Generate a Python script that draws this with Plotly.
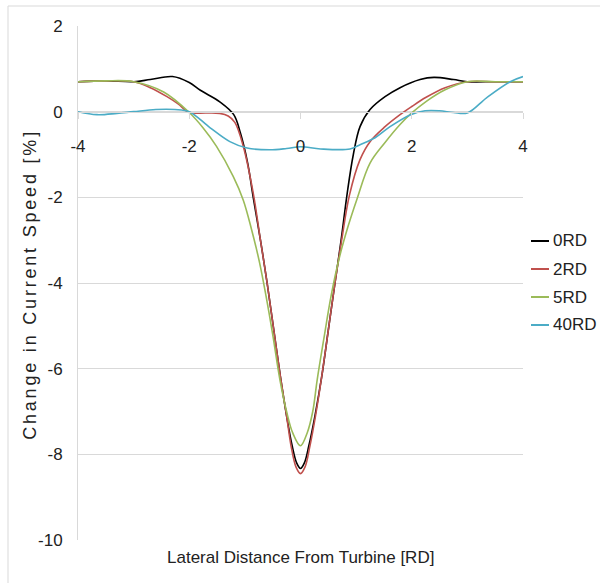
import plotly.graph_objects as go

# Lateral profiles of the change in current speed at several rotor-diameter (RD) distances downstream
x_0rd = [-4, -3.5, -3, -2.7, -2.3, -2.0, -1.8, -1.45, -1.2, -1.08, -0.95, -0.85, -0.72, -0.6, -0.48, -0.36, -0.25,
         -0.15, -0.07, 0, 0.07, 0.15, 0.26, 0.38, 0.5, 0.62, 0.73, 0.84, 0.95, 1.07, 1.25, 1.52, 1.79, 2.15, 2.4,
         2.75, 3.0, 3.5, 4]
y_0rd = [0.7, 0.72, 0.7, 0.75, 0.82, 0.68, 0.5, 0.23, -0.07, -0.5, -1.2, -2.0, -3.0, -4.0, -5.1, -6.2, -7.1,
         -7.8, -8.2, -8.33, -8.2, -7.8, -7.1, -6.2, -5.1, -4.0, -3.0, -1.9, -1.0, -0.35, 0.05, 0.35, 0.56, 0.75, 0.8,
         0.75, 0.7, 0.7, 0.7]

x_2rd = [-4, -3.5, -3, -2.7, -2.4, -2.2, -2.0, -1.7, -1.45, -1.3, -1.18, -1.03, -0.85, -0.72, -0.6, -0.48, -0.36,
         -0.25, -0.17, -0.08, 0, 0.08, 0.17, 0.27, 0.38, 0.5, 0.62, 0.74, 0.88, 1.07, 1.25, 1.52, 1.79, 2.0, 2.25,
         2.6, 3.0, 3.5, 4]
y_2rd = [0.7, 0.72, 0.7, 0.56, 0.35, 0.18, -0.02, -0.03, -0.04, -0.1, -0.25, -0.8, -1.9, -3.0, -4.0, -5.1, -6.2,
         -7.1, -7.8, -8.3, -8.45, -8.3, -7.8, -7.1, -6.2, -5.1, -4.0, -3.0, -1.95, -1.12, -0.7, -0.35, -0.07, 0.12,
         0.33, 0.56, 0.7, 0.7, 0.7]

x_5rd = [-4, -3.5, -3, -2.46, -2.0, -1.75, -1.51, -1.21, -1.03, -0.88, -0.74, -0.62, -0.5, -0.37, -0.25, -0.14, 0,
         0.12, 0.22, 0.3, 0.42, 0.55, 0.7, 0.85, 1.01, 1.25, 1.52, 1.79, 2.0, 2.25, 2.6, 3.0, 3.5, 4]
y_5rd = [0.7, 0.72, 0.7, 0.46, -0.02, -0.38, -0.81, -1.51, -2.06, -2.75, -3.5, -4.3, -5.2, -6.26, -7.0, -7.5, -7.8,
         -7.5, -7.0, -6.26, -5.3, -4.3, -3.4, -2.7, -2.06, -1.2, -0.72, -0.3, -0.03, 0.23, 0.51, 0.7, 0.7, 0.7]

x_40rd = [-4, -3.66, -3.3, -3.0, -2.6, -2.26, -2.0, -1.63, -1.27, -0.96, -0.55, -0.25, 0, 0.36, 0.89, 1.07, 1.34,
          1.61, 1.98, 2.24, 2.5, 2.75, 3.0, 3.35, 3.77, 4]
y_40rd = [0.0, -0.07, -0.04, 0.0, 0.05, 0.05, 0.0, -0.37, -0.7, -0.85, -0.89, -0.86, -0.82, -0.87, -0.87, -0.77,
          -0.61, -0.35, -0.07, 0.02, 0.02, -0.02, -0.03, 0.33, 0.7, 0.82]

series_names = ["0RD", "2RD", "5RD", "40RD"]
series_x = [x_0rd, x_2rd, x_5rd, x_40rd]
series_y = [y_0rd, y_2rd, y_5rd, y_40rd]
series_colors = ["#000000", "#c0504d", "#9bbb59", "#4bacc6"]

x_ticks = [-4, -2, 0, 2, 4]
y_ticks = [2, 0, -2, -4, -6, -8, -10]

W, H = 600, 583
ML, MR, MT, MB = 78, 77, 26, 43
PW, PH = W - ML - MR, H - MT - MB


def px_x(p):
    return (p - ML) / PW


def px_y(p):
    return (H - MB - p) / PH


GRID = "#d9d9d9"
TEXT = "#222222"
FAMILY = "Liberation Sans, Arial"
TICK_FONT = dict(family=FAMILY, size=17, color=TEXT)

fig = go.Figure()
for name, xs, ys, col in zip(series_names, series_x, series_y, series_colors):
    fig.add_trace(go.Scatter(x=xs, y=ys, name=name, mode="lines",
                             line=dict(color=col, width=1.6, shape="spline", smoothing=1.0),
                             showlegend=False))

fig.update_layout(
    width=W, height=H,
    margin=dict(l=ML, r=MR, t=MT, b=MB),
    paper_bgcolor="white", plot_bgcolor="white",
    xaxis=dict(range=[-4, 4], tickvals=x_ticks, ticktext=[str(v) for v in x_ticks],
               showgrid=False, zeroline=False, showline=True, linecolor=GRID, linewidth=1,
               ticks="outside", ticklen=6, tickcolor=GRID, tickfont=TICK_FONT,
               anchor="free", position=10 / 12, ticklabelstandoff=13),
    yaxis=dict(range=[-10, 2], tickvals=y_ticks, ticktext=[str(v) for v in y_ticks],
               showgrid=True, gridcolor=GRID, gridwidth=1, zeroline=False,
               showline=True, linecolor=GRID, linewidth=1, ticks="",
               tickfont=TICK_FONT, ticklabelstandoff=11),
)

# outer chart border
fig.add_shape(type="rect", xref="paper", yref="paper",
              x0=px_x(8), x1=px_x(603), y0=px_y(590), y1=px_y(6),
              line=dict(color=GRID, width=1), layer="below")

# axis titles
fig.add_annotation(text="Lateral Distance From Turbine [RD]", xref="paper", yref="paper",
                   x=px_x(300), y=px_y(557), xanchor="center", yanchor="middle", showarrow=False,
                   font=dict(family=FAMILY, size=17, color=TEXT))
fig.add_annotation(text="Change in Current Speed [%]", xref="paper", yref="paper",
                   x=px_x(30), y=px_y(285), xanchor="center", yanchor="middle", showarrow=False,
                   textangle=-90, font=dict(family=FAMILY, size=18, color=TEXT))

# legend
legend_rows = [241, 269, 297, 325]
for name, col, row in zip(series_names, series_colors, legend_rows):
    fig.add_shape(type="line", xref="paper", yref="paper",
                  x0=px_x(531), x1=px_x(549), y0=px_y(row), y1=px_y(row),
                  line=dict(color=col, width=2))
    fig.add_annotation(text=name, xref="paper", yref="paper", x=px_x(551), y=px_y(row),
                       xanchor="left", yanchor="middle", showarrow=False,
                       font=dict(family=FAMILY, size=17, color=TEXT))

# widen the letter spacing of the vertical axis title
spacing_js = """
document.querySelectorAll('.annotation-text').forEach(function (t) {
    if (t.textContent.indexOf('Change in Current Speed') === 0) {
        t.style.letterSpacing = '2.8px';
    }
});
"""

fig.write_html("out.html", post_script=spacing_js)
